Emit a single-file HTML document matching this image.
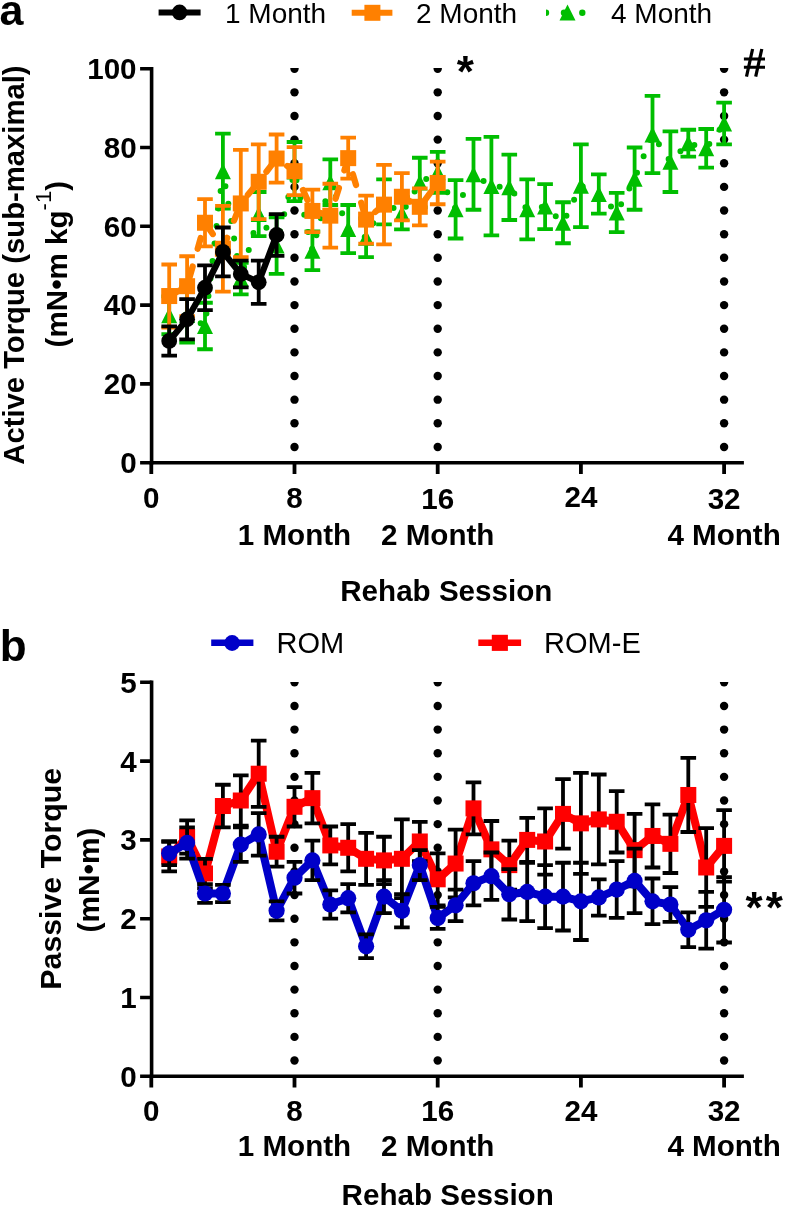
<!DOCTYPE html><html><head><meta charset="utf-8"><style>html,body{margin:0;padding:0;background:#fff;}svg{display:block;will-change:transform;}text{font-family:"Liberation Sans", sans-serif;}</style></head><body>
<svg width="785" height="1209" viewBox="0 0 785 1209">
<rect width="785" height="1209" fill="#fff"/>
<defs>
<clipPath id="ca"><rect x="140" y="68.1" width="620" height="420"/></clipPath>
<clipPath id="cb"><rect x="140" y="682" width="620" height="420"/></clipPath>
</defs>
<text x="-0.5" y="25.3" font-size="43" font-weight="bold">a</text>
<path d="M158.6 12.5H200.6" stroke="#000" stroke-width="6"/><circle cx="179.6" cy="12.4" r="7.8" fill="#000"/>
<text x="225" y="23.1" font-size="28">1 Month</text>
<path d="M351.7 12.8H392.4" stroke="#FF8000" stroke-width="6"/><rect x="364.4" y="4.8" width="16" height="16" fill="#FF8000"/>
<text x="416" y="23.1" font-size="28">2 Month</text>
<clipPath id="lg"><rect x="546" y="0" width="60" height="30"/></clipPath><g fill="#00BE00" clip-path="url(#lg)"><circle cx="546" cy="12.7" r="3.2"/><circle cx="564" cy="12.7" r="3.2"/><circle cx="582.3" cy="12.7" r="3.2"/></g>
<path d="M567.5 4.6L575.5 20.6L559.5 20.6Z" fill="#00BE00"/>
<text x="611" y="23.1" font-size="28">4 Month</text>
<path d="M151.6 66.9V464.5" stroke="#000" stroke-width="3.6"/>
<path d="M149.8 462.7H743.9" stroke="#000" stroke-width="3.6"/>
<path d="M140.1 462.7H151.6M140.1 383.9H151.6M140.1 305.1H151.6M140.1 226.3H151.6M140.1 147.5H151.6M140.1 68.7H151.6" stroke="#000" stroke-width="3.6"/>
<path d="M151.3 462.7V473.9M294.5 462.7V473.9M437.7 462.7V473.9M580.9 462.7V473.9M724.1 462.7V473.9" stroke="#000" stroke-width="3.8"/>
<text x="136.6" y="472.9" font-size="29.6" font-weight="bold" text-anchor="end">0</text>
<text x="136.6" y="394.1" font-size="29.6" font-weight="bold" text-anchor="end">20</text>
<text x="136.6" y="315.3" font-size="29.6" font-weight="bold" text-anchor="end">40</text>
<text x="136.6" y="236.5" font-size="29.6" font-weight="bold" text-anchor="end">60</text>
<text x="136.6" y="157.7" font-size="29.6" font-weight="bold" text-anchor="end">80</text>
<text x="136.6" y="78.9" font-size="29.6" font-weight="bold" text-anchor="end">100</text>
<text x="151.3" y="507.5" font-size="29.6" font-weight="bold" text-anchor="middle">0</text>
<text x="294.5" y="508.0" font-size="29.6" font-weight="bold" text-anchor="middle">8</text>
<text x="437.7" y="508.9" font-size="29.6" font-weight="bold" text-anchor="middle">16</text>
<text x="580.9" y="506.6" font-size="29.6" font-weight="bold" text-anchor="middle">24</text>
<text x="724.1" y="509.2" font-size="29.6" font-weight="bold" text-anchor="middle">32</text>
<text x="294.5" y="544.6" font-size="29.6" font-weight="bold" text-anchor="middle">1 Month</text>
<text x="437.7" y="544.6" font-size="29.6" font-weight="bold" text-anchor="middle">2 Month</text>
<text x="724.1" y="544.6" font-size="29.6" font-weight="bold" text-anchor="middle">4 Month</text>
<text x="446.3" y="601" font-size="29.6" font-weight="bold" text-anchor="middle">Rehab Session</text>
<text transform="translate(23.7 265.1) rotate(-90)" font-size="29.25" font-weight="bold" text-anchor="middle">Active Torque (sub-maximal)</text>
<text transform="translate(66.9 264.2) rotate(-90)" font-size="29.6" font-weight="bold" text-anchor="middle">(mN•m kg<tspan font-weight="normal" font-size="22" dy="-15.5">-1</tspan><tspan dy="15.5">)</tspan></text>
<text x="456.8" y="87.1" font-size="44" font-weight="bold">*</text>
<path d="M752.6 49L746.5 76.6M761.8 49L755.7 76.6" stroke="#000" stroke-width="3.2"/><path d="M743.9 59H765M743.9 67.2H765" stroke="#000" stroke-width="2.9"/>
<g clip-path="url(#ca)" fill="#000"><circle cx="294.5" cy="68.7" r="4.2"/><circle cx="294.5" cy="92.34" r="4.2"/><circle cx="294.5" cy="115.98" r="4.2"/><circle cx="294.5" cy="139.62" r="4.2"/><circle cx="294.5" cy="163.26" r="4.2"/><circle cx="294.5" cy="186.9" r="4.2"/><circle cx="294.5" cy="210.54" r="4.2"/><circle cx="294.5" cy="234.18" r="4.2"/><circle cx="294.5" cy="257.82" r="4.2"/><circle cx="294.5" cy="281.46" r="4.2"/><circle cx="294.5" cy="305.1" r="4.2"/><circle cx="294.5" cy="328.74" r="4.2"/><circle cx="294.5" cy="352.38" r="4.2"/><circle cx="294.5" cy="376.02" r="4.2"/><circle cx="294.5" cy="399.66" r="4.2"/><circle cx="294.5" cy="423.3" r="4.2"/><circle cx="294.5" cy="446.94" r="4.2"/></g>
<g clip-path="url(#ca)" fill="#000"><circle cx="437.7" cy="68.7" r="4.2"/><circle cx="437.7" cy="92.34" r="4.2"/><circle cx="437.7" cy="115.98" r="4.2"/><circle cx="437.7" cy="139.62" r="4.2"/><circle cx="437.7" cy="163.26" r="4.2"/><circle cx="437.7" cy="186.9" r="4.2"/><circle cx="437.7" cy="210.54" r="4.2"/><circle cx="437.7" cy="234.18" r="4.2"/><circle cx="437.7" cy="257.82" r="4.2"/><circle cx="437.7" cy="281.46" r="4.2"/><circle cx="437.7" cy="305.1" r="4.2"/><circle cx="437.7" cy="328.74" r="4.2"/><circle cx="437.7" cy="352.38" r="4.2"/><circle cx="437.7" cy="376.02" r="4.2"/><circle cx="437.7" cy="399.66" r="4.2"/><circle cx="437.7" cy="423.3" r="4.2"/><circle cx="437.7" cy="446.94" r="4.2"/></g>
<g clip-path="url(#ca)" fill="#000"><circle cx="724.1" cy="68.7" r="4.2"/><circle cx="724.1" cy="92.34" r="4.2"/><circle cx="724.1" cy="115.98" r="4.2"/><circle cx="724.1" cy="139.62" r="4.2"/><circle cx="724.1" cy="163.26" r="4.2"/><circle cx="724.1" cy="186.9" r="4.2"/><circle cx="724.1" cy="210.54" r="4.2"/><circle cx="724.1" cy="234.18" r="4.2"/><circle cx="724.1" cy="257.82" r="4.2"/><circle cx="724.1" cy="281.46" r="4.2"/><circle cx="724.1" cy="305.1" r="4.2"/><circle cx="724.1" cy="328.74" r="4.2"/><circle cx="724.1" cy="352.38" r="4.2"/><circle cx="724.1" cy="376.02" r="4.2"/><circle cx="724.1" cy="399.66" r="4.2"/><circle cx="724.1" cy="423.3" r="4.2"/><circle cx="724.1" cy="446.94" r="4.2"/></g>
<polyline points="169.2,315.34 187.1,314.95 205,325.98 222.9,171.14 240.8,278.7 258.7,214.09 276.6,245.61 294.5,171.53 312.4,250.73 330.3,182.17 348.2,229.06 366.1,237.73 384,201.87 401.9,213.3 419.8,182.57 437.7,172.32 455.6,209.36 473.5,174.29 491.4,186.11 509.3,187.29 527.2,209.36 545.1,206.6 563,222.75 580.9,185.72 598.8,193.99 616.7,212.51 634.6,178.63 652.5,134.5 670.4,161.68 688.3,143.17 706.2,148.29 724.1,123.47" stroke="#00BE00" stroke-width="6" fill="none" stroke-linejoin="round" stroke-linecap="round" stroke-dasharray="0 17.635" stroke-dashoffset="1.435"/>
<path d="M169.2 296.43V334.26M161.4 296.43H177M161.4 334.26H177M187.1 287.37V342.53M179.3 287.37H194.9M179.3 342.53H194.9M205 302.74V349.23M197.2 302.74H212.8M197.2 349.23H212.8M222.9 133.71V208.57M215.1 133.71H230.7M215.1 208.57H230.7M240.8 262.94V294.46M233 262.94H248.6M233 294.46H248.6M258.7 192.02V236.15M250.9 192.02H266.5M250.9 236.15H266.5M276.6 217.24V273.97M268.8 217.24H284.4M268.8 273.97H284.4M294.5 141.98V201.08M286.7 141.98H302.3M286.7 201.08H302.3M312.4 231.42V270.03M304.6 231.42H320.2M304.6 270.03H320.2M330.3 159.32V205.02M322.5 159.32H338.1M322.5 205.02H338.1M348.2 205.02V253.09M340.4 205.02H356M340.4 253.09H356M366.1 218.42V257.03M358.3 218.42H373.9M358.3 257.03H373.9M384 179.41V224.33M376.2 179.41H391.8M376.2 224.33H391.8M401.9 197.14V229.45M394.1 197.14H409.7M394.1 229.45H409.7M419.8 157.74V207.39M412 157.74H427.6M412 207.39H427.6M437.7 151.83V192.81M429.9 151.83H445.5M429.9 192.81H445.5M455.6 180.2V238.51M447.8 180.2H463.4M447.8 238.51H463.4M473.5 138.83V209.75M465.7 138.83H481.3M465.7 209.75H481.3M491.4 136.86V235.36M483.6 136.86H499.2M483.6 235.36H499.2M509.3 154.59V220M501.5 154.59H517.1M501.5 220H517.1M527.2 179.41V239.3M519.4 179.41H535M519.4 239.3H535M545.1 184.14V229.06M537.3 184.14H552.9M537.3 229.06H552.9M563 202.27V243.24M555.2 202.27H570.8M555.2 243.24H570.8M580.9 144.35V227.09M573.1 144.35H588.7M573.1 227.09H588.7M598.8 174.29V213.69M591 174.29H606.6M591 213.69H606.6M616.7 192.81V232.21M608.9 192.81H624.5M608.9 232.21H624.5M634.6 147.5V209.75M626.8 147.5H642.4M626.8 209.75H642.4M652.5 95.89V173.11M644.7 95.89H660.3M644.7 173.11H660.3M670.4 131.35V192.02M662.6 131.35H678.2M662.6 192.02H678.2M688.3 129.77V156.56M680.5 129.77H696.1M680.5 156.56H696.1M706.2 128.98V167.59M698.4 128.98H714M698.4 167.59H714M724.1 102.58V144.35M716.3 102.58H731.9M716.3 144.35H731.9" stroke="#00BE00" stroke-width="3.8" fill="none"/>
<path d="M169.2 307.34L177.2 323.34L161.2 323.34ZM187.1 306.95L195.1 322.95L179.1 322.95ZM205 317.98L213 333.98L197 333.98ZM222.9 163.14L230.9 179.14L214.9 179.14ZM240.8 270.7L248.8 286.7L232.8 286.7ZM258.7 206.09L266.7 222.09L250.7 222.09ZM276.6 237.61L284.6 253.61L268.6 253.61ZM294.5 163.53L302.5 179.53L286.5 179.53ZM312.4 242.73L320.4 258.73L304.4 258.73ZM330.3 174.17L338.3 190.17L322.3 190.17ZM348.2 221.06L356.2 237.06L340.2 237.06ZM366.1 229.73L374.1 245.73L358.1 245.73ZM384 193.87L392 209.87L376 209.87ZM401.9 205.3L409.9 221.3L393.9 221.3ZM419.8 174.57L427.8 190.57L411.8 190.57ZM437.7 164.32L445.7 180.32L429.7 180.32ZM455.6 201.36L463.6 217.36L447.6 217.36ZM473.5 166.29L481.5 182.29L465.5 182.29ZM491.4 178.11L499.4 194.11L483.4 194.11ZM509.3 179.29L517.3 195.29L501.3 195.29ZM527.2 201.36L535.2 217.36L519.2 217.36ZM545.1 198.6L553.1 214.6L537.1 214.6ZM563 214.75L571 230.75L555 230.75ZM580.9 177.72L588.9 193.72L572.9 193.72ZM598.8 185.99L606.8 201.99L590.8 201.99ZM616.7 204.51L624.7 220.51L608.7 220.51ZM634.6 170.63L642.6 186.63L626.6 186.63ZM652.5 126.5L660.5 142.5L644.5 142.5ZM670.4 153.68L678.4 169.68L662.4 169.68ZM688.3 135.17L696.3 151.17L680.3 151.17ZM706.2 140.29L714.2 156.29L698.2 156.29ZM724.1 115.47L732.1 131.47L716.1 131.47Z" fill="#00BE00"/>
<polyline points="169.2,296.04 187.1,286.19 205,222.75 222.9,248.76 240.8,203.45 258.7,181.78 276.6,158.53 294.5,171.14 312.4,210.93 330.3,215.66 348.2,158.14 366.1,219.6 384,204.63 401.9,196.75 419.8,206.8 437.7,182.96" stroke="#FF8000" stroke-width="6.3" fill="none" stroke-linejoin="round" stroke-linecap="round" stroke-dasharray="11.1 18.52" stroke-dashoffset="-0.1"/>
<path d="M169.2 264.52V327.56M161.4 264.52H177M161.4 327.56H177M187.1 256.24V316.13M179.3 256.24H194.9M179.3 316.13H194.9M205 199.11V246.39M197.2 199.11H212.8M197.2 246.39H212.8M222.9 205.81V291.7M215.1 205.81H230.7M215.1 291.7H230.7M240.8 149.86V257.03M233 149.86H248.6M233 257.03H248.6M258.7 144.35V219.21M250.9 144.35H266.5M250.9 219.21H266.5M276.6 134.5V182.57M268.8 134.5H284.4M268.8 182.57H284.4M294.5 147.11V195.17M286.7 147.11H302.3M286.7 195.17H302.3M312.4 189.66V232.21M304.6 189.66H320.2M304.6 232.21H320.2M330.3 183.75V247.58M322.5 183.75H338.1M322.5 247.58H338.1M348.2 137.65V178.63M340.4 137.65H356M340.4 178.63H356M366.1 195.57V243.64M358.3 195.57H373.9M358.3 243.64H373.9M384 164.84V244.42M376.2 164.84H391.8M376.2 244.42H391.8M401.9 173.11V220.39M394.1 173.11H409.7M394.1 220.39H409.7M419.8 188.28V225.31M412 188.28H427.6M412 225.31H427.6M437.7 161.68V204.24M429.9 161.68H445.5M429.9 204.24H445.5" stroke="#FF8000" stroke-width="3.8" fill="none"/>
<rect x="161.2" y="288.04" width="16.0" height="16.0" fill="#FF8000"/>
<rect x="179.1" y="278.19" width="16.0" height="16.0" fill="#FF8000"/>
<rect x="197" y="214.75" width="16.0" height="16.0" fill="#FF8000"/>
<rect x="214.9" y="240.76" width="16.0" height="16.0" fill="#FF8000"/>
<rect x="232.8" y="195.45" width="16.0" height="16.0" fill="#FF8000"/>
<rect x="250.7" y="173.78" width="16.0" height="16.0" fill="#FF8000"/>
<rect x="268.6" y="150.53" width="16.0" height="16.0" fill="#FF8000"/>
<rect x="286.5" y="163.14" width="16.0" height="16.0" fill="#FF8000"/>
<rect x="304.4" y="202.93" width="16.0" height="16.0" fill="#FF8000"/>
<rect x="322.3" y="207.66" width="16.0" height="16.0" fill="#FF8000"/>
<rect x="340.2" y="150.14" width="16.0" height="16.0" fill="#FF8000"/>
<rect x="358.1" y="211.6" width="16.0" height="16.0" fill="#FF8000"/>
<rect x="376" y="196.63" width="16.0" height="16.0" fill="#FF8000"/>
<rect x="393.9" y="188.75" width="16.0" height="16.0" fill="#FF8000"/>
<rect x="411.8" y="198.8" width="16.0" height="16.0" fill="#FF8000"/>
<rect x="429.7" y="174.96" width="16.0" height="16.0" fill="#FF8000"/>
<polyline points="169.2,340.95 187.1,319.28 205,287.76 222.9,251.91 240.8,273.97 258.7,282.25 276.6,234.97" stroke="#000" stroke-width="6.3" fill="none" stroke-linejoin="round" />
<path d="M169.2 326.38V355.53M161.4 326.38H177M161.4 355.53H177M187.1 299.19V339.38M179.3 299.19H194.9M179.3 339.38H194.9M205 265.31V310.22M197.2 265.31H212.8M197.2 310.22H212.8M222.9 227.48V276.34M215.1 227.48H230.7M215.1 276.34H230.7M240.8 260.58V287.37M233 260.58H248.6M233 287.37H248.6M258.7 260.58V303.92M250.9 260.58H266.5M250.9 303.92H266.5M276.6 214.09V255.85M268.8 214.09H284.4M268.8 255.85H284.4" stroke="#000" stroke-width="3.8" fill="none"/>
<circle cx="169.2" cy="340.95" r="7.9" fill="#000"/>
<circle cx="187.1" cy="319.28" r="7.9" fill="#000"/>
<circle cx="205" cy="287.76" r="7.9" fill="#000"/>
<circle cx="222.9" cy="251.91" r="7.9" fill="#000"/>
<circle cx="240.8" cy="273.97" r="7.9" fill="#000"/>
<circle cx="258.7" cy="282.25" r="7.9" fill="#000"/>
<circle cx="276.6" cy="234.97" r="7.9" fill="#000"/>
<text x="-0.2" y="661.3" font-size="44" font-weight="bold">b</text>
<path d="M211.2 642.7H253.4" stroke="#0000C8" stroke-width="6.5"/><circle cx="232.1" cy="643" r="7.9" fill="#0000C8"/>
<text x="276.5" y="653" font-size="29">ROM</text>
<path d="M478.3 642.8H521.1" stroke="#FF0000" stroke-width="6.5"/><rect x="491.8" y="634.8" width="16.1" height="16.1" fill="#FF0000"/>
<text x="544.1" y="653" font-size="29">ROM-E</text>
<path d="M151.6 680.5V1078.1" stroke="#000" stroke-width="3.6"/>
<path d="M149.8 1076.3H743.9" stroke="#000" stroke-width="3.6"/>
<path d="M140.1 1076.3H151.6M140.1 997.5H151.6M140.1 918.7H151.6M140.1 839.9H151.6M140.1 761.1H151.6M140.1 682.3H151.6" stroke="#000" stroke-width="3.6"/>
<path d="M151.3 1076.3V1087.5M294.5 1076.3V1087.5M437.7 1076.3V1087.5M580.9 1076.3V1087.5M724.1 1076.3V1087.5" stroke="#000" stroke-width="3.8"/>
<text x="136.6" y="1086.8" font-size="29.6" font-weight="bold" text-anchor="end">0</text>
<text x="136.6" y="1008" font-size="29.6" font-weight="bold" text-anchor="end">1</text>
<text x="136.6" y="929.2" font-size="29.6" font-weight="bold" text-anchor="end">2</text>
<text x="136.6" y="850.4" font-size="29.6" font-weight="bold" text-anchor="end">3</text>
<text x="136.6" y="771.6" font-size="29.6" font-weight="bold" text-anchor="end">4</text>
<text x="136.6" y="692.8" font-size="29.6" font-weight="bold" text-anchor="end">5</text>
<text x="151.3" y="1121.2" font-size="29.6" font-weight="bold" text-anchor="middle">0</text>
<text x="294.5" y="1121.2" font-size="29.6" font-weight="bold" text-anchor="middle">8</text>
<text x="437.7" y="1121.2" font-size="29.6" font-weight="bold" text-anchor="middle">16</text>
<text x="580.9" y="1121.2" font-size="29.6" font-weight="bold" text-anchor="middle">24</text>
<text x="724.1" y="1121.2" font-size="29.6" font-weight="bold" text-anchor="middle">32</text>
<text x="294.5" y="1156.1" font-size="29.6" font-weight="bold" text-anchor="middle">1 Month</text>
<text x="437.7" y="1156.1" font-size="29.6" font-weight="bold" text-anchor="middle">2 Month</text>
<text x="724.1" y="1156.1" font-size="29.6" font-weight="bold" text-anchor="middle">4 Month</text>
<text x="447.7" y="1205" font-size="29.6" font-weight="bold" text-anchor="middle">Rehab Session</text>
<text transform="translate(61.1 878.8) rotate(-90)" font-size="30.3" font-weight="bold" text-anchor="middle">Passive Torque</text>
<text transform="translate(99.3 880.1) rotate(-90)" font-size="29.8" font-weight="bold" text-anchor="middle">(mN•m)</text>
<text x="745.4" y="922.9" font-size="44" font-weight="bold">*</text>
<text x="765.8" y="922.9" font-size="44" font-weight="bold">*</text>
<g clip-path="url(#cb)" fill="#000"><circle cx="294.5" cy="682.3" r="4.2"/><circle cx="294.5" cy="705.94" r="4.2"/><circle cx="294.5" cy="729.58" r="4.2"/><circle cx="294.5" cy="753.22" r="4.2"/><circle cx="294.5" cy="776.86" r="4.2"/><circle cx="294.5" cy="800.5" r="4.2"/><circle cx="294.5" cy="824.14" r="4.2"/><circle cx="294.5" cy="847.78" r="4.2"/><circle cx="294.5" cy="871.42" r="4.2"/><circle cx="294.5" cy="895.06" r="4.2"/><circle cx="294.5" cy="918.7" r="4.2"/><circle cx="294.5" cy="942.34" r="4.2"/><circle cx="294.5" cy="965.98" r="4.2"/><circle cx="294.5" cy="989.62" r="4.2"/><circle cx="294.5" cy="1013.26" r="4.2"/><circle cx="294.5" cy="1036.9" r="4.2"/><circle cx="294.5" cy="1060.54" r="4.2"/></g>
<g clip-path="url(#cb)" fill="#000"><circle cx="437.7" cy="682.3" r="4.2"/><circle cx="437.7" cy="705.94" r="4.2"/><circle cx="437.7" cy="729.58" r="4.2"/><circle cx="437.7" cy="753.22" r="4.2"/><circle cx="437.7" cy="776.86" r="4.2"/><circle cx="437.7" cy="800.5" r="4.2"/><circle cx="437.7" cy="824.14" r="4.2"/><circle cx="437.7" cy="847.78" r="4.2"/><circle cx="437.7" cy="871.42" r="4.2"/><circle cx="437.7" cy="895.06" r="4.2"/><circle cx="437.7" cy="918.7" r="4.2"/><circle cx="437.7" cy="942.34" r="4.2"/><circle cx="437.7" cy="965.98" r="4.2"/><circle cx="437.7" cy="989.62" r="4.2"/><circle cx="437.7" cy="1013.26" r="4.2"/><circle cx="437.7" cy="1036.9" r="4.2"/><circle cx="437.7" cy="1060.54" r="4.2"/></g>
<g clip-path="url(#cb)" fill="#000"><circle cx="724.1" cy="682.3" r="4.2"/><circle cx="724.1" cy="705.94" r="4.2"/><circle cx="724.1" cy="729.58" r="4.2"/><circle cx="724.1" cy="753.22" r="4.2"/><circle cx="724.1" cy="776.86" r="4.2"/><circle cx="724.1" cy="800.5" r="4.2"/><circle cx="724.1" cy="824.14" r="4.2"/><circle cx="724.1" cy="847.78" r="4.2"/><circle cx="724.1" cy="871.42" r="4.2"/><circle cx="724.1" cy="895.06" r="4.2"/><circle cx="724.1" cy="918.7" r="4.2"/><circle cx="724.1" cy="942.34" r="4.2"/><circle cx="724.1" cy="965.98" r="4.2"/><circle cx="724.1" cy="989.62" r="4.2"/><circle cx="724.1" cy="1013.26" r="4.2"/><circle cx="724.1" cy="1036.9" r="4.2"/><circle cx="724.1" cy="1060.54" r="4.2"/></g>
<polyline points="169.2,856.45 187.1,836.98 205,873.47 222.9,806.02 240.8,800.5 258.7,773.71 276.6,851.72 294.5,806.8 312.4,798.14 330.3,845.42 348.2,847.78 366.1,858.81 384,860.39 401.9,858.81 419.8,841.48 437.7,879.3 455.6,863.54 473.5,808.38 491.4,849.36 509.3,865.12 527.2,839.9 545.1,841.48 563,813.9 580.9,823.35 598.8,819.41 616.7,821.78 634.6,850.14 652.5,835.96 670.4,843.84 688.3,794.98 706.2,867.48 724.1,845.89" stroke="#FF0000" stroke-width="8" fill="none" stroke-linejoin="round" />
<path d="M169.2 841.48V871.42M161.4 841.48H177M161.4 871.42H177M187.1 820.44V853.53M179.3 820.44H194.9M179.3 853.53H194.9M205 858.89V888.05M197.2 858.89H212.8M197.2 888.05H212.8M222.9 784.74V827.29M215.1 784.74H230.7M215.1 827.29H230.7M240.8 775.28V825.72M233 775.28H248.6M233 825.72H248.6M258.7 740.61V806.8M250.9 740.61H266.5M250.9 806.8H266.5M276.6 836.75V866.69M268.8 836.75H284.4M268.8 866.69H284.4M294.5 787.1V826.5M286.7 787.1H302.3M286.7 826.5H302.3M312.4 772.92V823.35M304.6 772.92H320.2M304.6 823.35H320.2M330.3 826.5V864.33M322.5 826.5H338.1M322.5 864.33H338.1M348.2 824.14V871.42M340.4 824.14H356M340.4 871.42H356M366.1 832.81V884.82M358.3 832.81H373.9M358.3 884.82H373.9M384 836.75V884.03M376.2 836.75H391.8M376.2 884.03H391.8M401.9 819.41V898.21M394.1 819.41H409.7M394.1 898.21H409.7M419.8 821.78V861.18M412 821.78H427.6M412 861.18H427.6M437.7 853.3V905.3M429.9 853.3H445.5M429.9 905.3H445.5M455.6 829.66V897.42M447.8 829.66H463.4M447.8 897.42H463.4M473.5 782.38V834.38M465.7 782.38H481.3M465.7 834.38H481.3M491.4 820.99V877.72M483.6 820.99H499.2M483.6 877.72H499.2M509.3 840.69V889.54M501.5 840.69H517.1M501.5 889.54H517.1M527.2 817.84V861.96M519.4 817.84H535M519.4 861.96H535M545.1 808.38V874.57M537.3 808.38H552.9M537.3 874.57H552.9M563 779.22V848.57M555.2 779.22H570.8M555.2 848.57H570.8M580.9 772.92V873.78M573.1 772.92H588.7M573.1 873.78H588.7M598.8 774.5V864.33M591 774.5H606.6M591 864.33H606.6M616.7 791.04V852.51M608.9 791.04H624.5M608.9 852.51H624.5M634.6 813.9V886.39M626.8 813.9H642.4M626.8 886.39H642.4M652.5 804.44V867.48M644.7 804.44H660.3M644.7 867.48H660.3M670.4 814.68V873M662.6 814.68H678.2M662.6 873H678.2M688.3 757.95V832.02M680.5 757.95H696.1M680.5 832.02H696.1M706.2 828.08V906.88M698.4 828.08H714M698.4 906.88H714M724.1 810.11V881.66M716.3 810.11H731.9M716.3 881.66H731.9" stroke="#000" stroke-width="3.8" fill="none"/>
<rect x="161.2" y="848.45" width="16.0" height="16.0" fill="#FF0000"/>
<rect x="179.1" y="828.98" width="16.0" height="16.0" fill="#FF0000"/>
<rect x="197" y="865.47" width="16.0" height="16.0" fill="#FF0000"/>
<rect x="214.9" y="798.02" width="16.0" height="16.0" fill="#FF0000"/>
<rect x="232.8" y="792.5" width="16.0" height="16.0" fill="#FF0000"/>
<rect x="250.7" y="765.71" width="16.0" height="16.0" fill="#FF0000"/>
<rect x="268.6" y="843.72" width="16.0" height="16.0" fill="#FF0000"/>
<rect x="286.5" y="798.8" width="16.0" height="16.0" fill="#FF0000"/>
<rect x="304.4" y="790.14" width="16.0" height="16.0" fill="#FF0000"/>
<rect x="322.3" y="837.42" width="16.0" height="16.0" fill="#FF0000"/>
<rect x="340.2" y="839.78" width="16.0" height="16.0" fill="#FF0000"/>
<rect x="358.1" y="850.81" width="16.0" height="16.0" fill="#FF0000"/>
<rect x="376" y="852.39" width="16.0" height="16.0" fill="#FF0000"/>
<rect x="393.9" y="850.81" width="16.0" height="16.0" fill="#FF0000"/>
<rect x="411.8" y="833.48" width="16.0" height="16.0" fill="#FF0000"/>
<rect x="429.7" y="871.3" width="16.0" height="16.0" fill="#FF0000"/>
<rect x="447.6" y="855.54" width="16.0" height="16.0" fill="#FF0000"/>
<rect x="465.5" y="800.38" width="16.0" height="16.0" fill="#FF0000"/>
<rect x="483.4" y="841.36" width="16.0" height="16.0" fill="#FF0000"/>
<rect x="501.3" y="857.12" width="16.0" height="16.0" fill="#FF0000"/>
<rect x="519.2" y="831.9" width="16.0" height="16.0" fill="#FF0000"/>
<rect x="537.1" y="833.48" width="16.0" height="16.0" fill="#FF0000"/>
<rect x="555" y="805.9" width="16.0" height="16.0" fill="#FF0000"/>
<rect x="572.9" y="815.35" width="16.0" height="16.0" fill="#FF0000"/>
<rect x="590.8" y="811.41" width="16.0" height="16.0" fill="#FF0000"/>
<rect x="608.7" y="813.78" width="16.0" height="16.0" fill="#FF0000"/>
<rect x="626.6" y="842.14" width="16.0" height="16.0" fill="#FF0000"/>
<rect x="644.5" y="827.96" width="16.0" height="16.0" fill="#FF0000"/>
<rect x="662.4" y="835.84" width="16.0" height="16.0" fill="#FF0000"/>
<rect x="680.3" y="786.98" width="16.0" height="16.0" fill="#FF0000"/>
<rect x="698.2" y="859.48" width="16.0" height="16.0" fill="#FF0000"/>
<rect x="716.1" y="837.89" width="16.0" height="16.0" fill="#FF0000"/>
<polyline points="169.2,853.3 187.1,842.97 205,893.48 222.9,893.48 240.8,844.63 258.7,834.38 276.6,910.82 294.5,877.72 312.4,860.39 330.3,904.52 348.2,898.21 366.1,946.28 384,896.64 401.9,910.82 419.8,865.12 437.7,917.91 455.6,905.3 473.5,883.24 491.4,876.15 509.3,894.27 527.2,891.91 545.1,896.64 563,896.64 580.9,901.36 598.8,897.42 616.7,889.54 634.6,880.88 652.5,901.36 670.4,904.52 688.3,929.73 706.2,920.28 724.1,909.8" stroke="#0000C8" stroke-width="8" fill="none" stroke-linejoin="round" />
<path d="M169.2 841.48V865.12M161.4 841.48H177M161.4 865.12H177M187.1 827.37V858.58M179.3 827.37H194.9M179.3 858.58H194.9M205 884.03V902.94M197.2 884.03H212.8M197.2 902.94H212.8M222.9 884.82V902.15M215.1 884.82H230.7M215.1 902.15H230.7M240.8 827.29V861.96M233 827.29H248.6M233 861.96H248.6M258.7 813.11V855.66M250.9 813.11H266.5M250.9 855.66H266.5M276.6 901.36V920.28M268.8 901.36H284.4M268.8 920.28H284.4M294.5 861.96V893.48M286.7 861.96H302.3M286.7 893.48H302.3M312.4 840.69V880.09M304.6 840.69H320.2M304.6 880.09H320.2M330.3 890.33V918.7M322.5 890.33H338.1M322.5 918.7H338.1M348.2 884.03V912.4M340.4 884.03H356M340.4 912.4H356M366.1 934.46V958.1M358.3 934.46H373.9M358.3 958.1H373.9M384 880.09V913.18M376.2 880.09H391.8M376.2 913.18H391.8M401.9 894.27V927.37M394.1 894.27H409.7M394.1 927.37H409.7M419.8 850.14V880.09M412 850.14H427.6M412 880.09H427.6M437.7 906.88V928.94M429.9 906.88H445.5M429.9 928.94H445.5M455.6 889.54V921.06M447.8 889.54H463.4M447.8 921.06H463.4M473.5 861.18V905.3M465.7 861.18H481.3M465.7 905.3H481.3M491.4 852.51V899.79M483.6 852.51H499.2M483.6 899.79H499.2M509.3 869.06V919.49M501.5 869.06H517.1M501.5 919.49H517.1M527.2 862.75V921.06M519.4 862.75H535M519.4 921.06H535M545.1 865.12V928.16M537.3 865.12H552.9M537.3 928.16H552.9M563 862.75V930.52M555.2 862.75H570.8M555.2 930.52H570.8M580.9 862.75V939.98M573.1 862.75H588.7M573.1 939.98H588.7M598.8 879.3V915.55M591 879.3H606.6M591 915.55H606.6M616.7 861.18V917.91M608.9 861.18H624.5M608.9 917.91H624.5M634.6 848.57V913.18M626.8 848.57H642.4M626.8 913.18H642.4M652.5 878.51V924.22M644.7 878.51H660.3M644.7 924.22H660.3M670.4 887.18V921.85M662.6 887.18H678.2M662.6 921.85H678.2M688.3 912.4V947.07M680.5 912.4H696.1M680.5 947.07H696.1M706.2 891.91V948.64M698.4 891.91H714M698.4 948.64H714M724.1 877.09V942.5M716.3 877.09H731.9M716.3 942.5H731.9" stroke="#000" stroke-width="3.8" fill="none"/>
<circle cx="169.2" cy="853.3" r="8.1" fill="#0000C8"/>
<circle cx="187.1" cy="842.97" r="8.1" fill="#0000C8"/>
<circle cx="205" cy="893.48" r="8.1" fill="#0000C8"/>
<circle cx="222.9" cy="893.48" r="8.1" fill="#0000C8"/>
<circle cx="240.8" cy="844.63" r="8.1" fill="#0000C8"/>
<circle cx="258.7" cy="834.38" r="8.1" fill="#0000C8"/>
<circle cx="276.6" cy="910.82" r="8.1" fill="#0000C8"/>
<circle cx="294.5" cy="877.72" r="8.1" fill="#0000C8"/>
<circle cx="312.4" cy="860.39" r="8.1" fill="#0000C8"/>
<circle cx="330.3" cy="904.52" r="8.1" fill="#0000C8"/>
<circle cx="348.2" cy="898.21" r="8.1" fill="#0000C8"/>
<circle cx="366.1" cy="946.28" r="8.1" fill="#0000C8"/>
<circle cx="384" cy="896.64" r="8.1" fill="#0000C8"/>
<circle cx="401.9" cy="910.82" r="8.1" fill="#0000C8"/>
<circle cx="419.8" cy="865.12" r="8.1" fill="#0000C8"/>
<circle cx="437.7" cy="917.91" r="8.1" fill="#0000C8"/>
<circle cx="455.6" cy="905.3" r="8.1" fill="#0000C8"/>
<circle cx="473.5" cy="883.24" r="8.1" fill="#0000C8"/>
<circle cx="491.4" cy="876.15" r="8.1" fill="#0000C8"/>
<circle cx="509.3" cy="894.27" r="8.1" fill="#0000C8"/>
<circle cx="527.2" cy="891.91" r="8.1" fill="#0000C8"/>
<circle cx="545.1" cy="896.64" r="8.1" fill="#0000C8"/>
<circle cx="563" cy="896.64" r="8.1" fill="#0000C8"/>
<circle cx="580.9" cy="901.36" r="8.1" fill="#0000C8"/>
<circle cx="598.8" cy="897.42" r="8.1" fill="#0000C8"/>
<circle cx="616.7" cy="889.54" r="8.1" fill="#0000C8"/>
<circle cx="634.6" cy="880.88" r="8.1" fill="#0000C8"/>
<circle cx="652.5" cy="901.36" r="8.1" fill="#0000C8"/>
<circle cx="670.4" cy="904.52" r="8.1" fill="#0000C8"/>
<circle cx="688.3" cy="929.73" r="8.1" fill="#0000C8"/>
<circle cx="706.2" cy="920.28" r="8.1" fill="#0000C8"/>
<circle cx="724.1" cy="909.8" r="8.1" fill="#0000C8"/>
</svg></body></html>
